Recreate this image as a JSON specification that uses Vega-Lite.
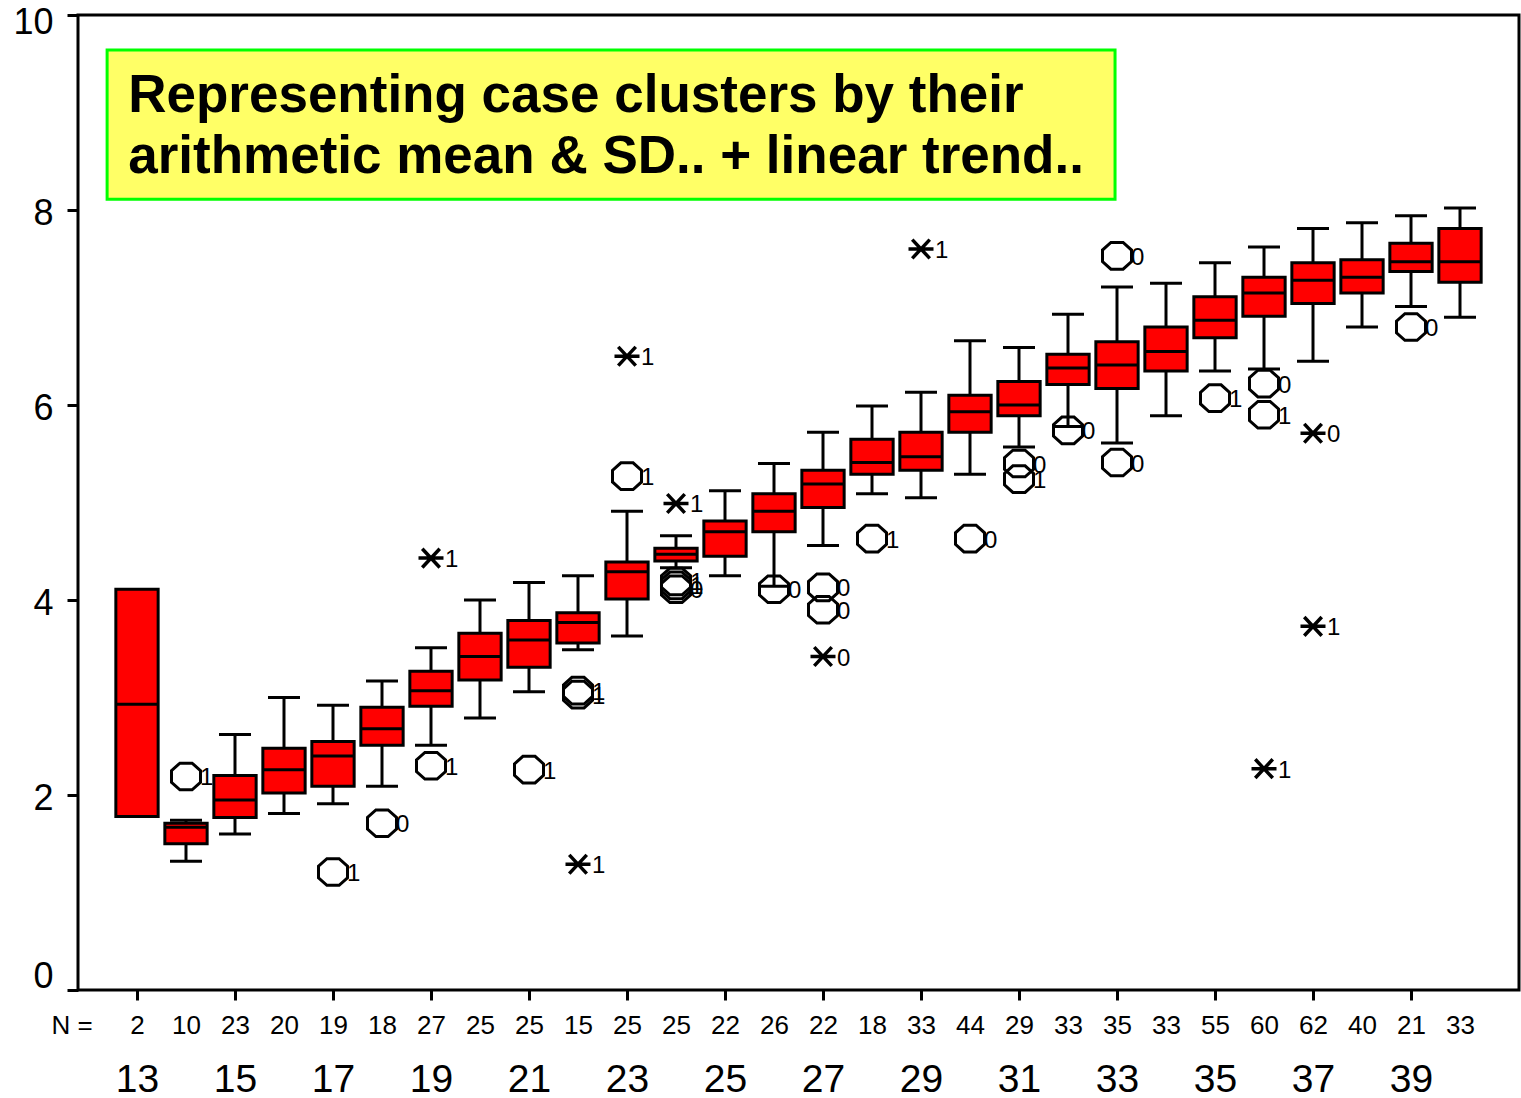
{
  "$schema": "https://vega.github.io/schema/vega-lite/v6.json",
  "width": 1441,
  "height": 975,
  "autosize": {"type": "none"},
  "padding": {"left": 78, "top": 15, "right": 2, "bottom": 108},
  "background": "white",
  "config": {
    "view": {"stroke": "black", "strokeWidth": 3},
    "axis": {"domain": false, "grid": false, "labelFont": "Liberation Sans", "titleFont": "Liberation Sans", "labelColor": "black", "titleColor": "black", "tickColor": "black"},
    "text": {"font": "Liberation Sans"}
  },
  "datasets": {
    "boxes": [
      {"c": 13, "n": 2, "lo": null, "q1": 1.78, "med": 2.93, "q3": 4.11, "hi": null},
      {"c": 14, "n": 10, "lo": 1.32, "q1": 1.50, "med": 1.67, "q3": 1.71, "hi": 1.74},
      {"c": 15, "n": 23, "lo": 1.60, "q1": 1.77, "med": 1.95, "q3": 2.20, "hi": 2.62},
      {"c": 16, "n": 20, "lo": 1.81, "q1": 2.02, "med": 2.26, "q3": 2.48, "hi": 3.00},
      {"c": 17, "n": 19, "lo": 1.91, "q1": 2.09, "med": 2.40, "q3": 2.55, "hi": 2.92},
      {"c": 18, "n": 18, "lo": 2.09, "q1": 2.51, "med": 2.68, "q3": 2.90, "hi": 3.17},
      {"c": 19, "n": 27, "lo": 2.51, "q1": 2.91, "med": 3.07, "q3": 3.27, "hi": 3.51},
      {"c": 20, "n": 25, "lo": 2.79, "q1": 3.18, "med": 3.42, "q3": 3.66, "hi": 4.00},
      {"c": 21, "n": 25, "lo": 3.06, "q1": 3.31, "med": 3.59, "q3": 3.79, "hi": 4.18},
      {"c": 22, "n": 15, "lo": 3.49, "q1": 3.56, "med": 3.77, "q3": 3.87, "hi": 4.25},
      {"c": 23, "n": 25, "lo": 3.63, "q1": 4.01, "med": 4.29, "q3": 4.39, "hi": 4.91},
      {"c": 24, "n": 25, "lo": 4.33, "q1": 4.40, "med": 4.47, "q3": 4.53, "hi": 4.66},
      {"c": 25, "n": 22, "lo": 4.25, "q1": 4.45, "med": 4.70, "q3": 4.81, "hi": 5.12},
      {"c": 26, "n": 26, "lo": 4.14, "q1": 4.70, "med": 4.91, "q3": 5.09, "hi": 5.40},
      {"c": 27, "n": 22, "lo": 4.56, "q1": 4.95, "med": 5.19, "q3": 5.33, "hi": 5.72},
      {"c": 28, "n": 18, "lo": 5.09, "q1": 5.29, "med": 5.41, "q3": 5.65, "hi": 5.99},
      {"c": 29, "n": 33, "lo": 5.05, "q1": 5.33, "med": 5.47, "q3": 5.72, "hi": 6.13},
      {"c": 30, "n": 44, "lo": 5.29, "q1": 5.72, "med": 5.93, "q3": 6.10, "hi": 6.66},
      {"c": 31, "n": 29, "lo": 5.57, "q1": 5.89, "med": 6.00, "q3": 6.24, "hi": 6.59},
      {"c": 32, "n": 33, "lo": 5.78, "q1": 6.21, "med": 6.38, "q3": 6.52, "hi": 6.93},
      {"c": 33, "n": 35, "lo": 5.61, "q1": 6.17, "med": 6.41, "q3": 6.65, "hi": 7.21},
      {"c": 34, "n": 33, "lo": 5.89, "q1": 6.35, "med": 6.55, "q3": 6.80, "hi": 7.25},
      {"c": 35, "n": 55, "lo": 6.35, "q1": 6.69, "med": 6.87, "q3": 7.11, "hi": 7.46},
      {"c": 36, "n": 60, "lo": 6.37, "q1": 6.91, "med": 7.15, "q3": 7.31, "hi": 7.62},
      {"c": 37, "n": 62, "lo": 6.45, "q1": 7.04, "med": 7.28, "q3": 7.46, "hi": 7.81},
      {"c": 38, "n": 40, "lo": 6.80, "q1": 7.15, "med": 7.31, "q3": 7.49, "hi": 7.87},
      {"c": 39, "n": 21, "lo": 7.01, "q1": 7.37, "med": 7.47, "q3": 7.66, "hi": 7.94},
      {"c": 40, "n": 33, "lo": 6.90, "q1": 7.26, "med": 7.47, "q3": 7.81, "hi": 8.02}
    ],
    "outliers": [
      {"c": 14, "v": 2.19, "t": "o", "lab": "1"},
      {"c": 17, "v": 1.21, "t": "o", "lab": "1"},
      {"c": 18, "v": 1.71, "t": "o", "lab": "0"},
      {"c": 19, "v": 2.30, "t": "o", "lab": "1"},
      {"c": 19, "v": 4.43, "t": "e", "lab": "1"},
      {"c": 21, "v": 2.26, "t": "o", "lab": "1"},
      {"c": 22, "v": 3.07, "t": "o", "lab": "1"},
      {"c": 22, "v": 3.03, "t": "o", "lab": "1"},
      {"c": 22, "v": 1.29, "t": "e", "lab": "1"},
      {"c": 23, "v": 5.27, "t": "o", "lab": "1"},
      {"c": 23, "v": 6.50, "t": "e", "lab": "1"},
      {"c": 24, "v": 4.19, "t": "o", "lab": "1"},
      {"c": 24, "v": 4.15, "t": "o", "lab": "1"},
      {"c": 24, "v": 4.11, "t": "o", "lab": "0"},
      {"c": 24, "v": 4.99, "t": "e", "lab": "1"},
      {"c": 26, "v": 4.11, "t": "o", "lab": "0"},
      {"c": 27, "v": 4.13, "t": "o", "lab": "0"},
      {"c": 27, "v": 3.90, "t": "o", "lab": "0"},
      {"c": 27, "v": 3.42, "t": "e", "lab": "0"},
      {"c": 28, "v": 4.63, "t": "o", "lab": "1"},
      {"c": 29, "v": 7.60, "t": "e", "lab": "1"},
      {"c": 30, "v": 4.63, "t": "o", "lab": "0"},
      {"c": 31, "v": 5.40, "t": "o", "lab": "0"},
      {"c": 31, "v": 5.24, "t": "o", "lab": "1"},
      {"c": 32, "v": 5.74, "t": "o", "lab": "0"},
      {"c": 33, "v": 7.53, "t": "o", "lab": "0"},
      {"c": 33, "v": 5.41, "t": "o", "lab": "0"},
      {"c": 35, "v": 6.07, "t": "o", "lab": "1"},
      {"c": 36, "v": 6.22, "t": "o", "lab": "0"},
      {"c": 36, "v": 5.90, "t": "o", "lab": "1"},
      {"c": 36, "v": 2.27, "t": "e", "lab": "1"},
      {"c": 37, "v": 5.71, "t": "e", "lab": "0"},
      {"c": 37, "v": 3.73, "t": "e", "lab": "1"},
      {"c": 39, "v": 6.80, "t": "o", "lab": "0"}
    ],
    "note": [{"x1": 12.39, "x2": 32.96, "y1": 8.11, "y2": 9.64}],
    "noteText": [
      {"x": 12.82, "y": 9.008, "line": "Representing case clusters by their"},
      {"x": 12.82, "y": 8.377, "line": "arithmetic mean & SD.. + linear trend.."}
    ]
  },
  "layer": [
    {
      "data": {"name": "note"},
      "mark": {"type": "rect", "fill": "#ffff66", "stroke": "#00ff00", "strokeWidth": 3},
      "encoding": {
        "x": {"field": "x1", "type": "quantitative", "scale": {"domain": [11.796, 41.204], "nice": false, "zero": false, "padding": 0}, "axis": null},
        "x2": {"field": "x2"},
        "y": {
          "field": "y1", "type": "quantitative", "title": null,
          "scale": {"domain": [0, 10], "nice": false, "zero": false, "padding": 0},
          "axis": {
            "orient": "left", "values": [0, 2, 4, 6, 8, 10], "format": "d", "title": null, "tickSize": 11, "tickWidth": 3,
            "labelFontSize": 36, "labelPadding": 14, "domain": false, "grid": false,
            "labelOffset": {"condition": [{"test": "datum.value == 0", "value": -14}, {"test": "datum.value == 10", "value": 7}], "value": 3}
          }
        },
        "y2": {"field": "y2"}
      }
    },
    {
      "data": {"name": "noteText"},
      "mark": {"type": "text", "align": "left", "baseline": "alphabetic", "fontSize": 53, "fontWeight": "bold", "color": "black", "font": "Liberation Sans"},
      "encoding": {
        "x": {"field": "x", "type": "quantitative", "axis": null},
        "y": {"field": "y", "type": "quantitative", "title": null},
        "text": {"field": "line"}
      }
    },
    {
      "data": {"name": "boxes"},
      "mark": {"type": "rule", "color": "black", "strokeWidth": 3, "opacity": 1},
      "encoding": {
        "x": {
          "field": "c", "type": "quantitative",
          "axis": {
            "orient": "bottom",
            "values": [13,14,15,16,17,18,19,20,21,22,23,24,25,26,27,28,29,30,31,32,33,34,35,36,37,38,39,40],
            "labelExpr": "['2','10','23','20','19','18','27','25','25','15','25','25','22','26','22','18','33','44','29','33','35','33','55','60','62','40','21','33'][datum.value - 13]",
            "ticks": false, "tickSize": 0, "domain": false, "grid": false,
            "labelFontSize": 26, "labelBaseline": "alphabetic", "labelPadding": 43,
            "labelFlush": false, "labelOverlap": false, "labelBound": false,
            "title": "N =", "titleFontSize": 26, "titleFontWeight": "normal", "titleAngle": 0,
            "titleAlign": "left", "titleBaseline": "alphabetic", "titleX": -27, "titleY": 43
          }
        },
        "y": {"field": "lo", "type": "quantitative", "title": null},
        "y2": {"field": "hi"}
      }
    },
    {
      "data": {"name": "boxes"},
      "mark": {"type": "bar", "fill": "#ff0000", "stroke": "black", "strokeWidth": 3, "width": 42.3, "opacity": 1},
      "encoding": {
        "x": {
          "field": "c", "type": "quantitative",
          "axis": {
            "orient": "bottom",
            "values": [13, 15, 17, 19, 21, 23, 25, 27, 29, 31, 33, 35, 37, 39],
            "format": "d", "ticks": true, "tickSize": 10, "tickWidth": 3, "domain": false, "grid": false,
            "labelFontSize": 39, "labelBaseline": "alphabetic", "labelPadding": 91,
            "labelFlush": false, "labelOverlap": false, "labelBound": false, "title": null
          }
        },
        "y": {"field": "q1", "type": "quantitative", "title": null},
        "y2": {"field": "q3"}
      }
    },
    {
      "data": {"name": "boxes"},
      "mark": {"type": "tick", "orient": "horizontal", "color": "black", "size": 42, "thickness": 3, "opacity": 1},
      "encoding": {
        "x": {"field": "c", "type": "quantitative", "axis": null},
        "y": {"field": "med", "type": "quantitative", "title": null}
      }
    },
    {
      "data": {"name": "boxes"},
      "mark": {"type": "tick", "orient": "horizontal", "color": "black", "size": 32, "thickness": 3, "opacity": 1},
      "encoding": {
        "x": {"field": "c", "type": "quantitative", "axis": null},
        "y": {"field": "lo", "type": "quantitative", "title": null}
      }
    },
    {
      "data": {"name": "boxes"},
      "mark": {"type": "tick", "orient": "horizontal", "color": "black", "size": 32, "thickness": 3, "opacity": 1},
      "encoding": {
        "x": {"field": "c", "type": "quantitative", "axis": null},
        "y": {"field": "hi", "type": "quantitative", "title": null}
      }
    },
    {
      "data": {"name": "outliers"},
      "transform": [{"filter": "datum.t == 'o'"}],
      "mark": {"type": "point", "shape": "M-0.42,-0.92L0.42,-0.92L1,-0.4L1,0.4L0.42,0.92L-0.42,0.92L-1,0.4L-1,-0.4Z", "size": 841, "filled": false, "color": "black", "strokeWidth": 3, "opacity": 1},
      "encoding": {
        "x": {"field": "c", "type": "quantitative", "axis": null},
        "y": {"field": "v", "type": "quantitative", "title": null}
      }
    },
    {
      "data": {"name": "outliers"},
      "transform": [{"filter": "datum.t == 'e'"}],
      "mark": {"type": "point", "shape": "M-1,0L1,0M-0.7,-0.75L0.7,0.75M-0.7,0.75L0.7,-0.75", "size": 625, "filled": false, "color": "black", "strokeWidth": 3.5, "opacity": 1},
      "encoding": {
        "x": {"field": "c", "type": "quantitative", "axis": null},
        "y": {"field": "v", "type": "quantitative", "title": null}
      }
    },
    {
      "data": {"name": "outliers"},
      "mark": {"type": "text", "align": "left", "baseline": "middle", "dx": 14, "dy": 2, "fontSize": 24, "color": "black", "font": "Liberation Sans"},
      "encoding": {
        "x": {"field": "c", "type": "quantitative", "axis": null},
        "y": {"field": "v", "type": "quantitative", "title": null},
        "text": {"field": "lab"}
      }
    }
  ],
  "resolve": {"axis": {"x": "independent", "y": "shared"}}
}
